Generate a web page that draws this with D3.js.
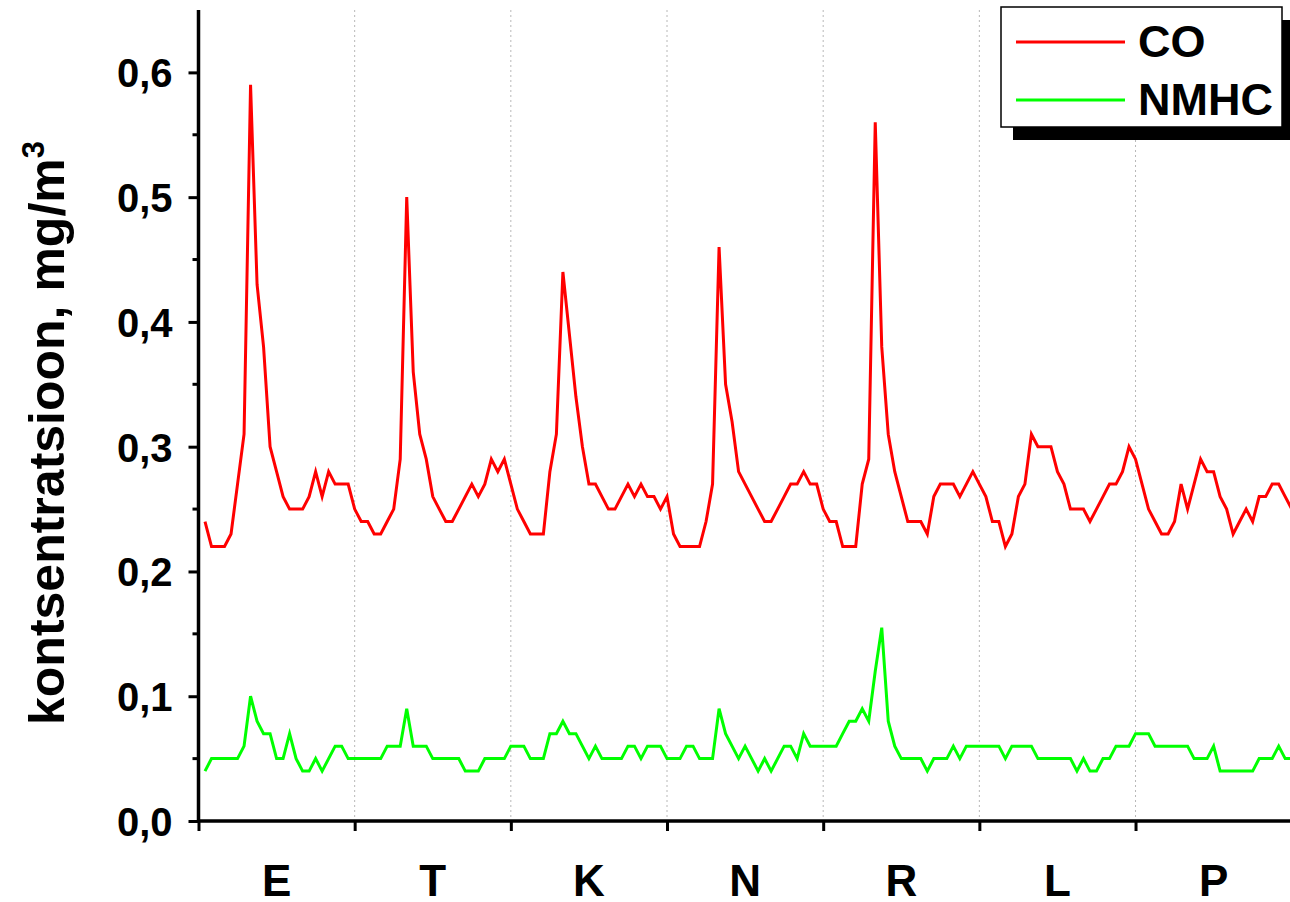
<!DOCTYPE html>
<html>
<head>
<meta charset="utf-8">
<script src="https://cdn.jsdelivr.net/npm/d3@7/dist/d3.min.js"></script>
<style>
  body { margin: 0; background: #fff; }
  svg { display: block; font-family: "Liberation Sans", Arial, sans-serif; font-weight: bold; }
</style>
</head>
<body>
<svg id="chart" width="1290" height="902"></svg>
<script>
// hourly values, 24 per day, 7 days
var days = ["E", "T", "K", "N", "R", "L", "P"];

var co = [
    0.24,0.22,0.22,0.22,0.23,0.27,0.31,0.59,0.43,0.38,0.30,0.28,0.26,0.25,0.25,0.25,0.26,0.28,0.26,0.28,0.27,0.27,0.27,0.25,
    0.24,0.24,0.23,0.23,0.24,0.25,0.29,0.50,0.36,0.31,0.29,0.26,0.25,0.24,0.24,0.25,0.26,0.27,0.26,0.27,0.29,0.28,0.29,0.27,
    0.25,0.24,0.23,0.23,0.23,0.28,0.31,0.44,0.39,0.34,0.30,0.27,0.27,0.26,0.25,0.25,0.26,0.27,0.26,0.27,0.26,0.26,0.25,0.26,
    0.23,0.22,0.22,0.22,0.22,0.24,0.27,0.46,0.35,0.32,0.28,0.27,0.26,0.25,0.24,0.24,0.25,0.26,0.27,0.27,0.28,0.27,0.27,0.25,
    0.24,0.24,0.22,0.22,0.22,0.27,0.29,0.56,0.38,0.31,0.28,0.26,0.24,0.24,0.24,0.23,0.26,0.27,0.27,0.27,0.26,0.27,0.28,0.27,
    0.26,0.24,0.24,0.22,0.23,0.26,0.27,0.31,0.30,0.30,0.30,0.28,0.27,0.25,0.25,0.25,0.24,0.25,0.26,0.27,0.27,0.28,0.30,0.29,
    0.27,0.25,0.24,0.23,0.23,0.24,0.27,0.25,0.27,0.29,0.28,0.28,0.26,0.25,0.23,0.24,0.25,0.24,0.26,0.26,0.27,0.27,0.26,0.25
];

var nmhc = [
    0.04,0.05,0.05,0.05,0.05,0.05,0.06,0.10,0.08,0.07,0.07,0.05,0.05,0.07,0.05,0.04,0.04,0.05,0.04,0.05,0.06,0.06,0.05,0.05,
    0.05,0.05,0.05,0.05,0.06,0.06,0.06,0.09,0.06,0.06,0.06,0.05,0.05,0.05,0.05,0.05,0.04,0.04,0.04,0.05,0.05,0.05,0.05,0.06,
    0.06,0.06,0.05,0.05,0.05,0.07,0.07,0.08,0.07,0.07,0.06,0.05,0.06,0.05,0.05,0.05,0.05,0.06,0.06,0.05,0.06,0.06,0.06,0.05,
    0.05,0.05,0.06,0.06,0.05,0.05,0.05,0.09,0.07,0.06,0.05,0.06,0.05,0.04,0.05,0.04,0.05,0.06,0.06,0.05,0.07,0.06,0.06,0.06,
    0.06,0.06,0.07,0.08,0.08,0.09,0.08,0.12,0.155,0.08,0.06,0.05,0.05,0.05,0.05,0.04,0.05,0.05,0.05,0.06,0.05,0.06,0.06,0.06,
    0.06,0.06,0.06,0.05,0.06,0.06,0.06,0.06,0.05,0.05,0.05,0.05,0.05,0.05,0.04,0.05,0.04,0.04,0.05,0.05,0.06,0.06,0.06,0.07,
    0.07,0.07,0.06,0.06,0.06,0.06,0.06,0.06,0.05,0.05,0.05,0.06,0.04,0.04,0.04,0.04,0.04,0.04,0.05,0.05,0.05,0.06,0.05,0.05
];

var yTicks = [0, 0.1, 0.2, 0.3, 0.4, 0.5, 0.6];
var series = [
    { name: "CO", values: co, color: "#ff0000" },
    { name: "NMHC", values: nmhc, color: "#00ff00" }
];

var plotLeft = 198.5, plotRight = 1291.7, plotTop = 10, plotBottom = 821;

var svg = d3.select("#chart");

var x = d3.scaleLinear()
    .domain([0, 168])
    .range([plotLeft, plotRight]);

var y = d3.scaleLinear()
    .domain([0, 0.65])
    .range([plotBottom, plotTop]);

// dotted day gridlines
svg.append("g")
    .selectAll("line")
    .data(d3.range(24, 168, 24))
    .enter()
    .append("line")
        .attr("x1", function(d) { return x(d); })
        .attr("x2", function(d) { return x(d); })
        .attr("y1", plotTop)
        .attr("y2", plotBottom)
        .style("stroke", "#b8b8b8")
        .style("stroke-width", 1)
        .style("stroke-dasharray", "2,3");

var line = d3.line()
    .x(function(d, i) { return x(i + 1); })
    .y(function(d) { return y(d); });

svg.selectAll("path.series")
    .data(series)
    .enter()
    .append("path")
        .attr("class", "series")
        .attr("d", function(d) { return line(d.values); })
        .style("fill", "none")
        .style("stroke", function(d) { return d.color; })
        .style("stroke-width", 3)
        .style("stroke-linejoin", "miter");

// y axis
var yAxis = d3.axisLeft(y)
    .tickValues(yTicks)
    .tickSize(10)
    .tickPadding(16)
    .tickFormat(function(d) { return d3.format(".1f")(d).replace(".", ","); });

var yg = svg.append("g")
    .attr("transform", "translate(" + [plotLeft, 0] + ")")
    .call(yAxis);

yg.selectAll(".tick line").style("stroke-width", 3);
yg.select(".domain").attr("d", "M0," + plotTop + "V" + plotBottom).style("stroke-width", 3.5);
yg.selectAll("text")
    .attr("dy", "0.36em")
    .style("font-size", "40px")
    .style("font-weight", "bold")
    .style("fill", "#000");

// minor y ticks
yg.selectAll("line.minor")
    .data(d3.range(0.05, 0.65, 0.1))
    .enter()
    .append("line")
        .attr("class", "minor")
        .attr("x1", -6)
        .attr("x2", 0)
        .attr("y1", function(d) { return y(d); })
        .attr("y2", function(d) { return y(d); })
        .style("stroke", "#000")
        .style("stroke-width", 3);

// x axis
var xAxis = d3.axisBottom(x)
    .tickValues(d3.range(0, 169, 24))
    .tickSize(10)
    .tickFormat("");

var xg = svg.append("g")
    .attr("transform", "translate(" + [0, plotBottom] + ")")
    .call(xAxis);

xg.selectAll(".tick line").style("stroke-width", 3);
xg.select(".domain").attr("d", "M" + plotLeft + ",0H" + plotRight).style("stroke-width", 3.5);

svg.append("g")
    .selectAll("text")
    .data(days)
    .enter()
    .append("text")
        .attr("x", function(d, i) { return x(i * 24 + 12); })
        .attr("y", 896)
        .attr("text-anchor", "middle")
        .style("font-size", "44px")
        .text(function(d) { return d; });

// y title
var title = svg.append("text")
    .attr("transform", "translate(64," + 433 + ") rotate(-90)")
    .attr("text-anchor", "middle")
    .style("font-size", "50px");
title.append("tspan").text("kontsentratsioon, mg/m");
title.append("tspan")
    .attr("dy", -20)
    .style("font-size", "31px")
    .text("3");

// legend
var lg = svg.append("g");
lg.append("rect")
    .attr("x", 1013).attr("y", 20)
    .attr("width", 290).attr("height", 120)
    .style("fill", "#000");
lg.append("rect")
    .attr("x", 1001).attr("y", 7)
    .attr("width", 281).attr("height", 120)
    .style("fill", "#fff")
    .style("stroke", "#000")
    .style("stroke-width", 1.5);

var item = lg.selectAll("g.item")
    .data(series)
    .enter()
    .append("g")
        .attr("class", "item")
        .attr("transform", function(d, i) { return "translate(0," + (42 + i * 58) + ")"; });

item.append("line")
    .attr("x1", 1016).attr("x2", 1125)
    .style("stroke", function(d) { return d.color; })
    .style("stroke-width", 3);

item.append("text")
    .attr("x", 1138)
    .attr("y", 15)
    .style("font-size", "45px")
    .text(function(d) { return d.name; });
</script>
</body>
</html>
